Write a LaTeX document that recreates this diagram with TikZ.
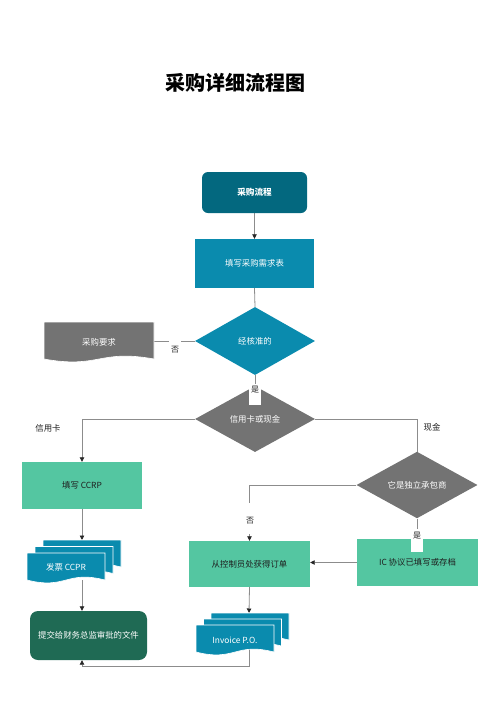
\documentclass[tikz,border=0pt]{standalone}
\usepackage{fontspec}
\setmainfont{Noto Sans CJK SC}
\usetikzlibrary{shapes.geometric,arrows.meta}
\pgfdeclarelayer{bg}
\pgfsetlayers{bg,main}
\definecolor{startc}{HTML}{03687F}
\definecolor{bluec}{HTML}{0A8BAE}
\definecolor{grayc}{HTML}{737373}
\definecolor{greenc}{HTML}{54C6A1}
\definecolor{dkgreenc}{HTML}{1F6A54}
\definecolor{linec}{HTML}{8C8C8C}
\definecolor{darktext}{HTML}{1E1E1E}
\newcommand\mydoc[5]{\path[fill=#5,draw=white,line width=0.6pt] (#1,#2) -- (#3,#2) -- (#3,#4) .. controls ({(#1+#3)/2},{#4-10}) and ({(#1+#3)/2},{#4+10}) .. (#1,#4) -- cycle;}
\tikzset{
  txt/.style={font=\fontsize{8.4}{10}\selectfont},
  boxnode/.style={rectangle, inner sep=0pt, txt},
  dia/.style={diamond, inner sep=0pt, minimum width=120pt, fill=grayc, text=white, txt},
  conn/.style={draw=linec, line width=0.8pt},
  arr/.style={conn, -{Triangle[length=4.5pt,width=4.5pt,color=black!85]}},
  lbl/.style={fill=white, inner xsep=2pt, inner ysep=0pt, font=\fontsize{8}{9}\selectfont, text=darktext},
}
\begin{document}
\begin{tikzpicture}[x=1pt,y=-1pt]
\useasboundingbox (0,0) rectangle (500,707);
% title
\node[font=\bfseries\fontsize{20}{24}\selectfont] (title) at (235,83) {采购详细流程图};
% boxes
\node[boxnode, rounded corners=6pt, fill=startc, text=white, minimum width=105pt, minimum height=41pt, font=\bfseries\fontsize{8.6}{10}\selectfont] (start) at (254.5,192.5) {采购流程};
\node[boxnode, fill=bluec, text=white, minimum width=119pt, minimum height=49pt] (req) at (254.5,263.5) {填写采购需求表};
\node[dia, fill=bluec, minimum height=68pt] (d1) at (255,341) {经核准的};
\mydoc{44}{322}{154}{359}{grayc}
\node[boxnode, text=white, minimum width=110pt, minimum height=40pt] (doc1) at (99,342) {采购要求};
\node[dia, minimum height=66pt] (d2) at (255,419) {信用卡或现金};
\node[dia, minimum width=121pt, minimum height=64pt] (d3) at (417,485) {它是独立承包商};
\node[boxnode, fill=greenc, text=darktext, minimum width=120pt, minimum height=47pt] (ccrp) at (82,485.5) {填写 CCRP};
\node[boxnode, fill=greenc, text=darktext, minimum width=121pt, minimum height=46pt] (ctrl) at (249.5,564) {从控制员处获得订单};
\node[boxnode, fill=greenc, text=darktext, minimum width=121pt, minimum height=47pt] (ic) at (417.5,562.5) {IC 协议已填写或存档};
\node[boxnode, rounded corners=8pt, fill=dkgreenc, text=white, minimum width=117pt, minimum height=49pt] (final) at (88.5,635.5) {提交给财务总监审批的文件};
% multi documents
\mydoc{43}{540}{121}{567}{bluec}
\mydoc{35}{546.5}{113}{573.5}{bluec}
\mydoc{27}{553}{105}{580}{bluec}
\node[boxnode, text=white] (ccpr) at (66,567) {发票 CCPR};
\coordinate (ccprtop) at (82,540);
\coordinate (ccprbot) at (82,580);
\mydoc{211}{613}{289}{640}{bluec}
\mydoc{203.5}{619}{281.5}{646}{bluec}
\mydoc{196}{625}{274}{652}{bluec}
\node[boxnode, text=white] (inv) at (235,640) {Invoice P.O.};
\coordinate (invtop) at (249,613);
\coordinate (invbot) at (249,645);
% connectors
\begin{pgfonlayer}{bg}
\draw[arr] (start.south) -- (req.north);
\draw[conn] (req.south) -- (d1.north);
\draw[conn] (d1.west) -- (d1.west -| doc1.east);
\draw[conn] (d1.south) -- (d2.north);
\draw[arr] (d2.west) -| (ccrp.north);
\draw[conn] (d2.east) -| (d3.north);
\draw[arr] (d3.west) -| (ctrl.north);
\draw[conn] (d3.south) -- (d3.south |- ic.north);
\draw[arr] (ic.west) -- (ic.west -| ctrl.east);
\draw[arr] (ccrp.south) -- (ccprtop);
\draw[arr] (ccprbot) -- (ccrp.south |- final.north);
\draw[arr] (ctrl.south) -- (invtop);
\draw[arr] (invbot) -- ++(0,21) -| (final.south -| ccrp.south);
\end{pgfonlayer}
% labels
\node[lbl, text height=13pt, text depth=4pt] (no1) at (175,348) {否};
\node[lbl, anchor=base, text height=8pt, text depth=13pt] (yes1) at (255,392) {是};
\node[lbl, anchor=base, text height=20pt, text depth=11pt] (no2) at (250,523) {否};
\node[lbl, anchor=base, text height=9pt, text depth=14pt] (yes2) at (417,538) {是};
\node[txt, text=darktext] (cardlbl) at (48,428) {信用卡};
\node[txt, text=darktext] (cashlbl) at (432,427) {现金};
\end{tikzpicture}
\end{document}
